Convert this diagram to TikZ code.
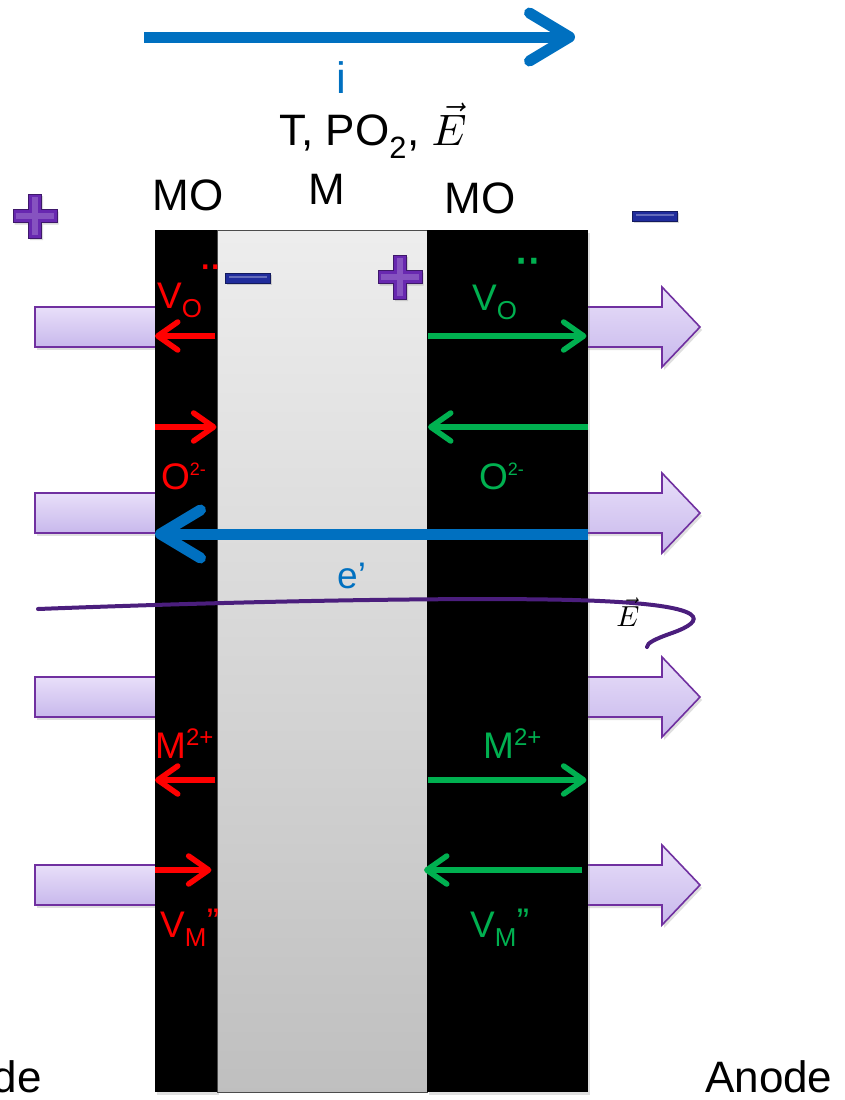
\documentclass[tikz,border=0pt]{standalone}
\usepackage{graphicx}
\usepackage{fontspec}
\setmainfont{Liberation Sans}
\usepackage{tikz}
\usetikzlibrary{arrows.meta,positioning,shadows}

\definecolor{ionred}{RGB}{255,0,0}
\definecolor{iongreen}{RGB}{0,176,80}
\definecolor{curblue}{RGB}{0,112,192}
\definecolor{fieldpurple}{RGB}{75,30,125}
\definecolor{barline}{RGB}{112,48,160}
\definecolor{barhi}{RGB}{232,223,249}
\definecolor{barlo}{RGB}{200,184,236}
\definecolor{plusviolet}{RGB}{104,40,176}
\definecolor{minusblue}{RGB}{32,44,156}

\newcommand{\bigvecE}[1]{{\fontsize{10}{12}\selectfont\scalebox{#1}{$\vec{E}$}}}
\newcommand{\vacdots}[2]{\raisebox{#2}{\fontsize{#1}{#1}\selectfont ¨}}

\tikzset{
  lbl/.style={font=\fontsize{44}{48}\selectfont, inner sep=0pt},
  ionlbl/.style={font=\fontsize{37}{40}\selectfont, inner sep=0pt},
  redarr/.style={draw=ionred, line width=5.5pt, -{Straight Barb[length=20pt,width=28pt,round]}},
  greenarr/.style={redarr, draw=iongreen},
  bluearr/.style={draw=curblue, line width=11pt, -{Straight Barb[length=40pt,width=48pt,round]}},
  bar/.style={draw=barline, line width=1.6pt, top color=barhi, bottom color=barlo,
    drop shadow={shadow xshift=2pt, shadow yshift=-3pt, opacity=0.25}},
  strip/.style={fill=black, inner sep=0pt, anchor=north west, minimum height=862pt,
    drop shadow={shadow xshift=2pt, shadow yshift=-3pt, opacity=0.25}},
  field/.style={draw=fieldpurple, line width=4pt, line cap=round},
  plussign/.pic={
    \fill[plusviolet, draw=plusviolet!60!black, line width=0.8pt,
      drop shadow={shadow xshift=1.5pt, shadow yshift=-2pt, opacity=0.3}]
      (-22,-6.5) -- (-6.5,-6.5) -- (-6.5,-22) -- (6.5,-22) -- (6.5,-6.5) -- (22,-6.5)
      -- (22,6.5) -- (6.5,6.5) -- (6.5,22) -- (-6.5,22) -- (-6.5,6.5) -- (-22,6.5) -- cycle;
    \fill[plusviolet!80!white] (-3,-19) rectangle (3,19);
    \fill[plusviolet!80!white] (-19,-3) rectangle (19,3);
  },
  minussign/.pic={
    \fill[minusblue, draw=minusblue!60!black, line width=0.8pt,
      drop shadow={shadow xshift=1.5pt, shadow yshift=-2pt, opacity=0.3}] (-22.5,-5) rectangle (22.5,5);
    \fill[minusblue!70!white] (-19,-2.5) rectangle (19,0);
  }
}

\begin{document}
\begin{tikzpicture}[x=1pt, y=-1pt]
\useasboundingbox (0,0) rectangle (844,1100);

% purple bars, drawn first so the layers cover their ends
\foreach \y in {327,513,697,885} {
  \draw[bar] (35,\y-20) rectangle (160,\y+20);
  \draw[bar] (584,\y-20) -- (662,\y-20) -- (662,\y-40) -- (700,\y) -- (662,\y+40) -- (662,\y+20) -- (584,\y+20);
}

% the three layers
\node[strip, minimum width=62pt] (leftMO) at (155,230) {};
\node[anchor=north west, inner sep=0pt, minimum width=210pt, minimum height=862pt,
  top color=black!7, bottom color=black!25, draw=black!70, line width=0.6pt] (metal) at (217,230) {};
\node[strip, minimum width=161pt] (rightMO) at (427,230) {};

% rows of the ion arrows
\coordinate (rowVO) at (0,336);
\coordinate (rowO) at (0,427);
\coordinate (rowE) at (0,534);
\coordinate (rowM) at (0,780);
\coordinate (rowVM) at (0,870);

% current
\coordinate (iStart) at (144,37);
\coordinate (iEnd) at (575,37);
\draw[bluearr] (iStart) -- (iEnd);
\node[lbl, text=curblue] (iLbl) at (341,78) {i};
\node[lbl] (cond) at (373,131) {T, PO\textsubscript{2}, \bigvecE{4.4}};

\node[lbl] (moL) at (188,195) {MO};
\node[lbl] (mLbl) at (327,189) {M};
\node[lbl] (moR) at (480,198) {MO};

\pic at (35,216) {plussign};
\pic at (400,277) {plussign};
\pic at (248,278) {minussign};
\pic at (655,216) {minussign};

% left oxide (red)
\node[ionlbl, text=ionred, anchor=base west] (voL) at (157,308) {V\textsubscript{O}\vacdots{52}{8pt}};
\draw[redarr] ([xshift=-2pt]leftMO.east |- rowVO) -- (leftMO.west |- rowVO);
\draw[redarr] (leftMO.west |- rowO) -- ([xshift=-1pt]leftMO.east |- rowO);
\node[ionlbl, text=ionred, anchor=base west] (oL) at (161,489) {O\raisebox{14pt}{\fontsize{18}{18}\selectfont 2-}};
\node[ionlbl, text=ionred, anchor=base west] (mL) at (155,758) {M\raisebox{13pt}{\fontsize{24}{24}\selectfont 2+}};
\draw[redarr] ([xshift=-2pt]leftMO.east |- rowM) -- (leftMO.west |- rowM);
\draw[redarr] (leftMO.west |- rowVM) -- ([xshift=-6pt]leftMO.east |- rowVM);
\node[ionlbl, text=ionred, anchor=base west] (vmL) at (160,937) {V\textsubscript{M}\raisebox{3pt}{”}};

% right oxide (green)
\node[ionlbl, text=iongreen, anchor=base west] (voR) at (472,310) {V\textsubscript{O}\vacdots{66}{7pt}};
\draw[greenarr] ([xshift=1pt]rightMO.west |- rowVO) -- ([xshift=-2pt]rightMO.east |- rowVO);
\draw[greenarr] (rightMO.east |- rowO) -- ([xshift=1pt]rightMO.west |- rowO);
\node[ionlbl, text=iongreen, anchor=base west] (oR) at (479,489) {O\raisebox{14pt}{\fontsize{18}{18}\selectfont 2-}};
\node[ionlbl, text=iongreen, anchor=base west] (mR) at (483,758) {M\raisebox{13pt}{\fontsize{24}{24}\selectfont 2+}};
\draw[greenarr] ([xshift=1pt]rightMO.west |- rowM) -- ([xshift=-2pt]rightMO.east |- rowM);
\draw[greenarr] ([xshift=-6pt]rightMO.east |- rowVM) -- ([xshift=-3pt]rightMO.west |- rowVM);
\node[ionlbl, text=iongreen, anchor=base west] (vmR) at (470,937) {V\textsubscript{M}\raisebox{3pt}{”}};

% electrons
\draw[bluearr] (rightMO.east |- rowE) -- (leftMO.west |- rowE);
\node[ionlbl, text=curblue, anchor=base west] (eLbl) at (337,588) {e’};

% field line
\coordinate (fStart) at (38,609);
\coordinate (fEnd) at (647,647);
\draw[field] (fStart) .. controls (300,599) and (520,597) .. (600,601)
  .. controls (712,606) and (706,621) .. (672,633) .. controls (655,639) and (647,643) .. (fEnd);
\node[inner sep=0pt] (eField) at (628,612) {\bigvecE{2.9}};

\node[lbl, anchor=base east] (cathode) at (42,1092) {Cathode};
\node[lbl, anchor=base west] (anode) at (705,1092) {Anode};
\end{tikzpicture}
\end{document}
